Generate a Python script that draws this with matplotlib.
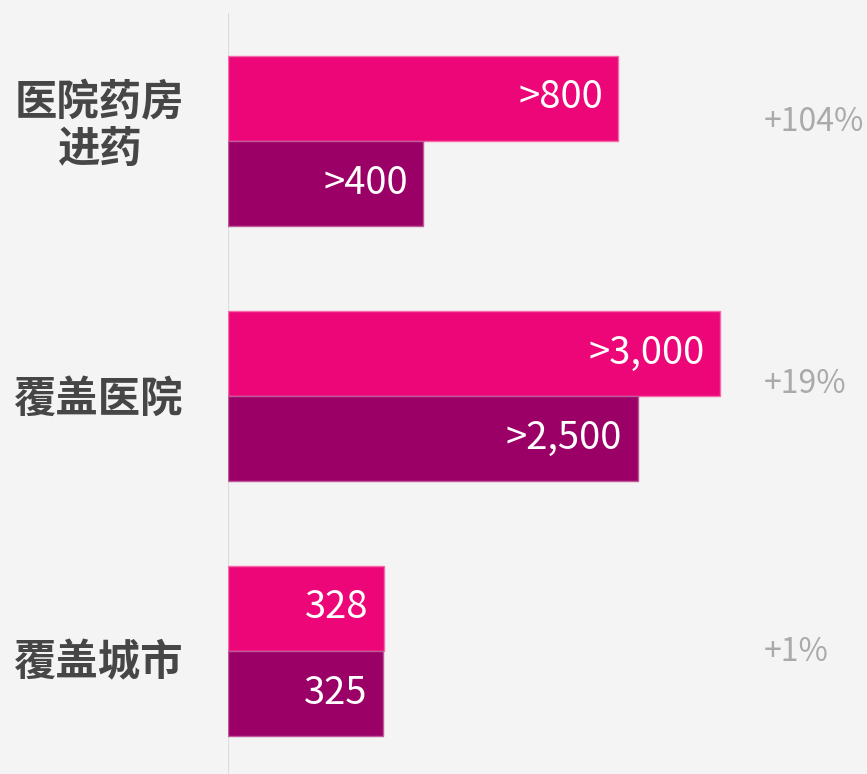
import matplotlib
matplotlib.use("Agg")
import matplotlib.pyplot as plt

plt.rcParams['font.family'] = ['Noto Sans CJK SC', 'DejaVu Sans']

categories = ['医院药房\n进药', '覆盖医院', '覆盖城市']
new_values = [800, 3000, 328]
old_values = [400, 2500, 325]
new_labels = ['>800', '>3,000', '328']
old_labels = ['>400', '>2,500', '325']
changes = ['+104%', '+19%', '+1%']

# each group has its own x scale, as in the original
group_xmax = [1310, 3900, 1342]
# vertical offsets of the side texts, in points
change_dy = [13, 8, -1]
label_dy = [10, -3, -9]

W, H = 867, 774
bg = '#f4f4f4'
pink = '#ec0677'
plum = '#9a0066'

fig = plt.figure(figsize=(W / 100, H / 100), dpi=100, facecolor=bg)

left_px = 228
centers_px = [140.5, 395.5, 650.5]
half_px = 127.5

for i in range(len(categories)):
    bottom = 1 - (centers_px[i] + half_px) / H
    ax = fig.add_axes([left_px / W, bottom, (W - left_px) / W, 2 * half_px / H])
    ax.set_facecolor('none')
    ax.set_xlim(0, group_xmax[i])
    ax.set_ylim(-1.5, 1.5)
    ax.axis('off')

    ax.axvline(0, color='#dcdcdc', lw=1.5, zorder=0)
    ax.barh([0.5], [new_values[i]], height=1, color=pink,
            edgecolor='#f46aa8', lw=1, zorder=2)
    ax.barh([-0.5], [old_values[i]], height=1, color=plum,
            edgecolor='#c0589a', lw=1, zorder=2)

    for y, v, lab in [(0.5, new_values[i], new_labels[i]),
                      (-0.5, old_values[i], old_labels[i])]:
        ax.annotate(lab, (v, y), xytext=(-11, 0), textcoords='offset points',
                    ha='right', va='center', color='white', fontsize=27.5,
                    zorder=3)

    ax.annotate(changes[i], xy=(764 / W, 0), xycoords=('figure fraction', 'data'),
                xytext=(0, change_dy[i]), textcoords='offset points',
                ha='left', va='center', color='#aaaaaa', fontsize=23,
                annotation_clip=False)

    ax.annotate(categories[i], xy=(99 / W, 0), xycoords=('figure fraction', 'data'),
                xytext=(0, label_dy[i]), textcoords='offset points',
                ha='center', va='center', color='#464646', fontsize=30.5,
                fontweight='bold', linespacing=1.15, annotation_clip=False)

fig.savefig('out.png', dpi=100, facecolor=bg)
